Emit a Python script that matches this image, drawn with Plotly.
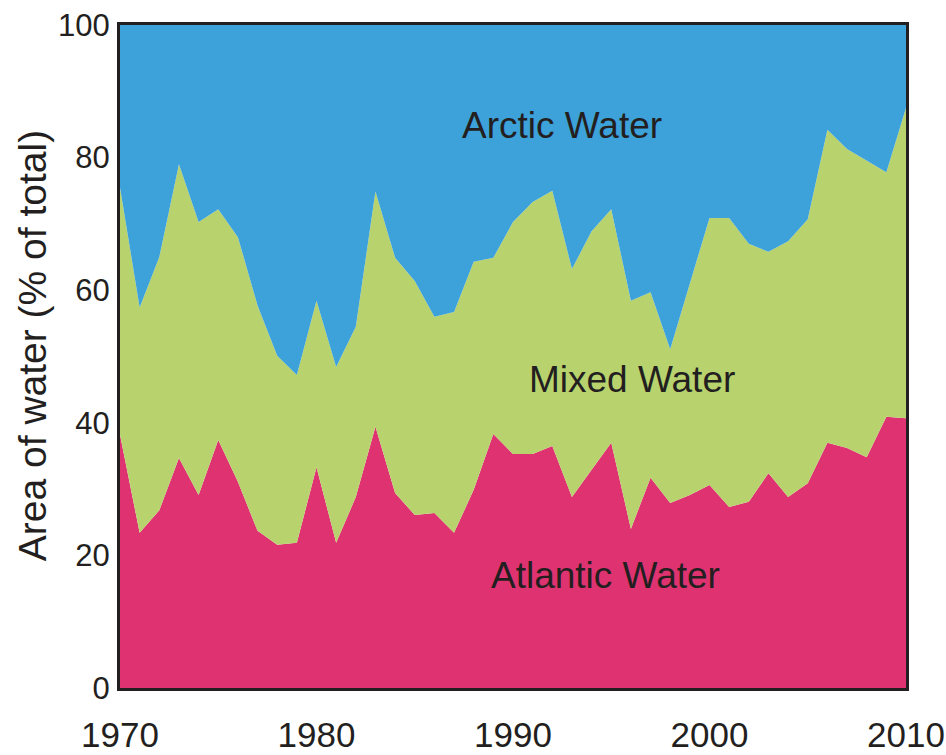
import plotly.graph_objects as go

years = list(range(1970, 2011))

atlantic = [38.2, 23.4, 26.8, 34.7, 29.1, 37.4, 31.1, 23.7, 21.6, 21.9,
            33.3, 21.9, 28.8, 39.4, 29.4, 26.1, 26.4, 23.4, 29.9, 38.3,
            35.3, 35.3, 36.5, 28.8, 32.9, 37.0, 24.0, 31.7, 27.9, 29.1,
            30.6, 27.3, 28.1, 32.4, 28.8, 30.9, 37.0, 36.2, 34.8, 40.9,
            40.7]

mixed = [37.3, 34.0, 38.2, 44.3, 41.2, 34.8, 36.9, 34.0, 28.5, 25.3,
         25.1, 26.5, 25.7, 35.5, 35.5, 35.3, 29.6, 33.3, 34.4, 26.6,
         35.0, 38.0, 38.5, 34.4, 36.0, 35.2, 34.4, 28.0, 23.2, 32.0,
         40.3, 43.6, 38.9, 33.4, 38.6, 39.8, 47.2, 45.1, 44.7, 36.9,
         46.8]

arctic = [24.5, 42.6, 35.0, 21.0, 29.7, 27.8, 32.0, 42.3, 49.9, 52.8,
          41.6, 51.6, 45.5, 25.1, 35.1, 38.6, 44.0, 43.3, 35.7, 35.1,
          29.7, 26.7, 25.0, 36.8, 31.1, 27.8, 41.6, 40.3, 48.9, 38.9,
          29.1, 29.1, 33.0, 34.2, 32.6, 29.3, 15.8, 18.7, 20.5, 22.2,
          12.5]

series_names = ["Atlantic Water", "Mixed Water", "Arctic Water"]
series_colors = ["#DE3370", "#B8D36D", "#3DA1DA"]
x_ticks = [1970, 1980, 1990, 2000, 2010]
y_ticks = [0, 20, 40, 60, 80, 100]

text_color = "#231F20"
tick_font = "Liberation Sans, Arial"

fig = go.Figure()
for name, vals, col in zip(series_names, [atlantic, mixed, arctic], series_colors):
    fig.add_trace(go.Scatter(
        x=years, y=vals, name=name, mode="lines",
        stackgroup="one", line=dict(width=0, color=col),
        fillcolor=col, hoverinfo="skip", showlegend=False,
    ))

label_pos = {
    "Arctic Water": (1992.5, 84.9),
    "Mixed Water": (1996.05, 46.5),
    "Atlantic Water": (1994.7, 16.9),
}
for name in series_names:
    lx, ly = label_pos[name]
    fig.add_annotation(x=lx, y=ly, text=name, showarrow=False,
                       xanchor="center", yanchor="middle",
                       font=dict(family="Liberation Sans, Arial", size=37, color=text_color))

fig.add_annotation(xref="paper", yref="paper", x=-0.112, y=0.517,
                   xanchor="center", yanchor="middle",
                   text="Area of water (% of total)", textangle=-90, showarrow=False,
                   font=dict(family="Liberation Sans, Arial", size=39, color=text_color))

fig.update_layout(
    template="none",
    width=946, height=755,
    margin=dict(l=120, r=40, t=25, b=67, autoexpand=False),
    paper_bgcolor="white", plot_bgcolor="white",
    xaxis=dict(range=[1970, 2010], tickvals=x_ticks, showgrid=False, zeroline=False,
               automargin=False, ticklabeloverflow="allow",
               showline=True, linewidth=3, linecolor=text_color, mirror=True,
               ticks="", ticklabelstandoff=14,
               tickfont=dict(family=tick_font, size=35, color=text_color)),
    yaxis=dict(range=[0, 100], tickvals=y_ticks, showgrid=False, zeroline=False,
               automargin=False, ticklabeloverflow="allow",
               showline=True, linewidth=3, linecolor=text_color, mirror=True,
               ticks="", ticklabelstandoff=1,
               tickfont=dict(family=tick_font, size=31, color=text_color)),
)

fig.write_html(
    "out.html",
    config={"displayModeBar": False},
    post_script="document.body.style.margin='0';document.body.style.overflow='hidden';",
)
